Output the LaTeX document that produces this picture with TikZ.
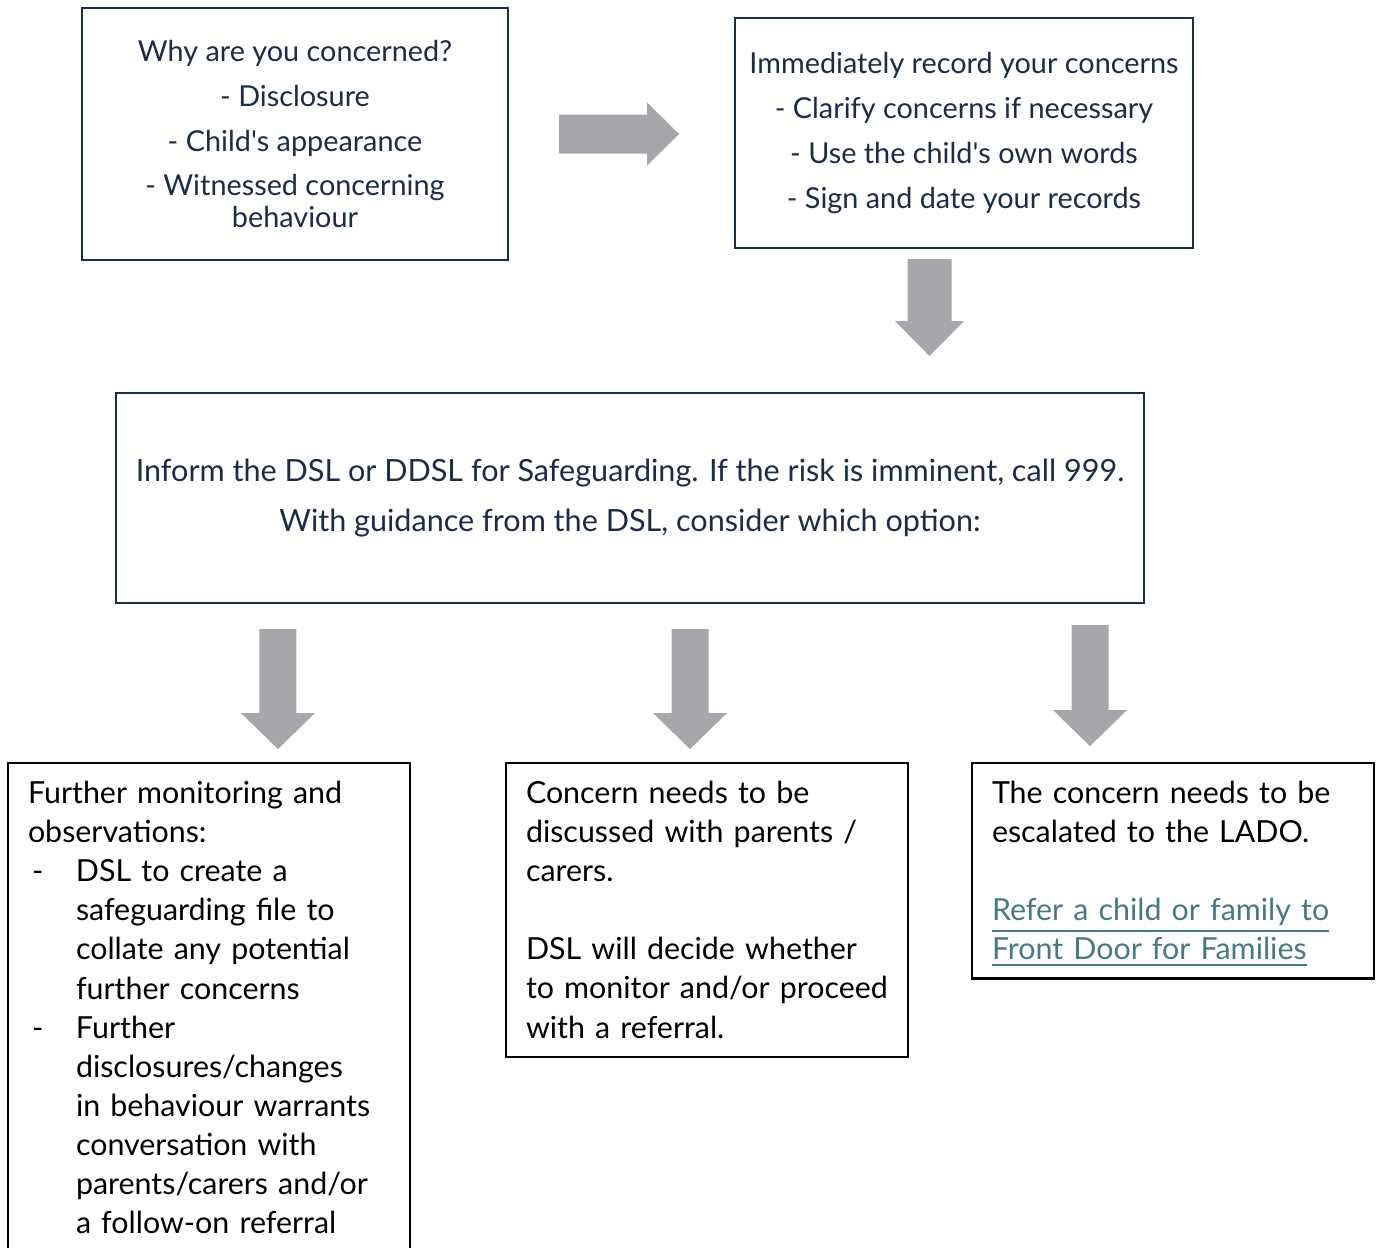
\documentclass[tikz,border=0pt]{standalone}
\usepackage{fontspec}
\setmainfont{Lato}
\definecolor{navy}{HTML}{1B2B48}
\definecolor{blockgray}{HTML}{A6A7AA}
\definecolor{linkteal}{HTML}{467886}
% block arrows: start point, length, shaft width, head width, head length
\newcommand{\darrow}[5]{\fill[blockgray] (#1) ++({-#3/2},0) -- ++(#3,0) -- ++(0,{#2-#5}) -- ++({(#4-#3)/2},0) -- ++({-#4/2},#5) -- ++({-#4/2},-#5) -- ++({(#4-#3)/2},0) -- cycle;}
\newcommand{\rarrow}[5]{\fill[blockgray] (#1) ++(0,{-#3/2}) -- ++(0,#3) -- ++({#2-#5},0) -- ++(0,{(#4-#3)/2}) -- ++(#5,{-#4/2}) -- ++(-#5,{-#4/2}) -- ++(0,{(#4-#3)/2}) -- cycle;}
\newcommand{\bul}{\makebox[4.8mm][l]{\hspace{0.4mm}-}}
\newcommand{\bulin}{\hspace*{4.8mm}}
\newcommand{\q}{\textquotesingle}
\newcommand{\weblink}[1]{\smash{\textcolor{linkteal}{\underline{#1}}}}

\begin{document}
\begin{tikzpicture}[x=0.1mm, y=-0.1mm,
  topbox/.style={draw=navy, line width=0.6pt, text=navy, align=center, inner sep=0pt,
    font=\fontsize{8.2}{9.1}\selectfont},
  optbox/.style={draw=black, line width=0.6pt, anchor=north, align=left, text width=36.2mm,
    inner xsep=2mm, inner ysep=1.85mm, font=\fontsize{8.65}{11.1}\selectfont}]
\useasboundingbox (0,0) rectangle (1380,1248);
\clip (0,0) rectangle (1380,1248);
\node[topbox, minimum width=42.6mm, minimum height=25.2mm] (why) at (295,134) {Why are you concerned?\\[1.3mm]- Disclosure\\[1.3mm]- Child\q s appearance\\[1.3mm]- Witnessed concerning\\behaviour};
\node[topbox, minimum width=45.8mm, minimum height=23mm] (rec) at (964,133) {Immediately record your concerns\\[1.3mm]- Clarify concerns if necessary\\[1.3mm]- Use the child\q s own words\\[1.3mm]- Sign and date your records};
\node[topbox, minimum width=102.8mm, minimum height=21mm, font=\fontsize{8.7}{9.1}\selectfont] (inf) at (630,498) {Inform the DSL or DDSL for Safeguarding. If the risk is imminent, call 999.\\[1.8mm]With guidance from the DSL, consider which option:};
\node[optbox] (mon) at (209,762) {Further monitoring and\\observations:\\
  \bul DSL to create a\\\bulin safeguarding file to\\\bulin collate any potential\\\bulin further concerns\\
  \bul Further\\\bulin disclosures/changes\\\bulin in behaviour warrants\\\bulin conversation with\\\bulin parents/carers and/or\\\bulin a follow-on referral\\[-2mm]\mbox{}};
\node[optbox] (par) at (707,762) {Concern needs to be\\discussed with parents /\\carers.\\[3.9mm]DSL will decide whether\\to monitor and/or proceed\\with a referral.};
\node[optbox] (lado) at (1173,762) {The concern needs to be\\escalated to the LADO.\\[3.9mm]\weblink{Refer a child or family to}\\\weblink{Front Door for Families}};
\coordinate (r0) at ([xshift=5mm]why.east);
\coordinate (d0) at ([xshift=-3.45mm, yshift=-1mm]rec.south);
\coordinate (d1) at ([xshift=6.9mm, yshift=-2.5mm]inf.south -| mon.north);
\coordinate (d2) at ([xshift=-1.7mm, yshift=-2.5mm]inf.south -| par.north);
\coordinate (d3) at ([xshift=-8.3mm, yshift=-2.1mm]inf.south -| lado.north);
\rarrow{r0}{120}{39}{63}{32}
\darrow{d0}{97}{44}{69}{35}
\foreach \c in {d1,d2} {\darrow{\c}{120}{37}{74}{36}}
\darrow{d3}{121}{37}{74}{36}
\end{tikzpicture}
\end{document}
